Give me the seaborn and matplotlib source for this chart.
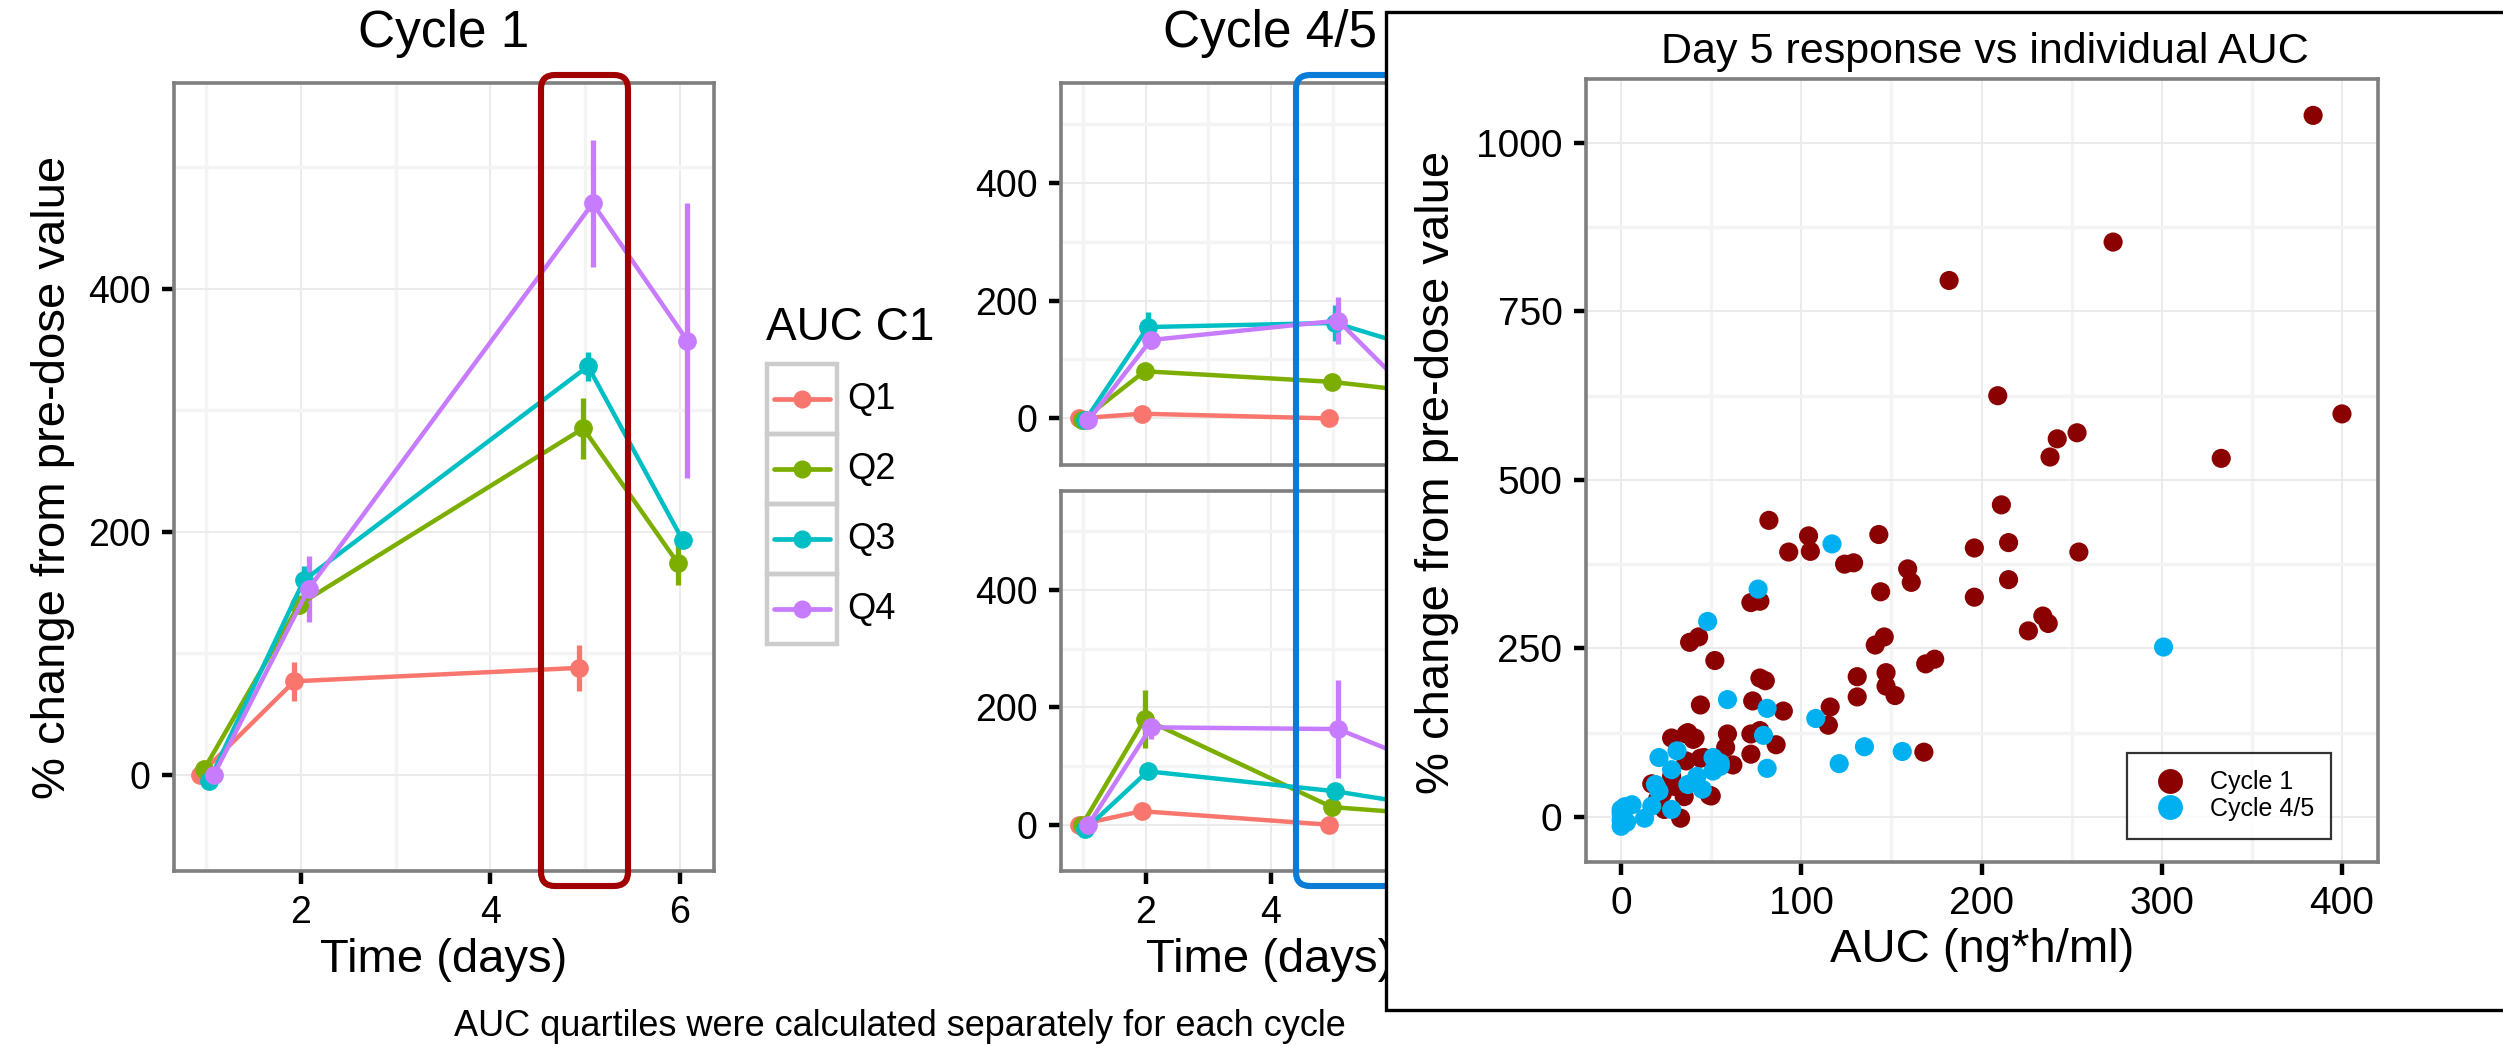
import matplotlib
matplotlib.use("Agg")
import matplotlib.pyplot as plt
from matplotlib.patches import FancyBboxPatch, Rectangle
from matplotlib.lines import Line2D
from matplotlib.ticker import MultipleLocator
import numpy as np
import pandas as pd
import seaborn as sns


# ---- data ----
days = [1, 2, 5, 6]
quartiles = ["Q1", "Q2", "Q3", "Q4"]

# cycle 1, mean % change and error bar half-width per quartile (rows) and day (cols)
c1_mean = [[0, 77, 88, np.nan], [5, 140, 285, 174], [-5, 160, 336, 193], [0, 153, 470, 357]]
c1_err = [[2, 16, 19, np.nan], [3, 8, 25, 18], [4, 12, 12, 5], [3, 27, 52, 113]]

# cycle 4 (upper facet) and cycle 5 (lower facet)
c4_mean = [[0, 8, 0, np.nan], [-3, 80, 62, 50], [-3, 155, 162, 130], [-3, 133, 166, 60]]
c4_err = [[2, 4, 3, np.nan], [2, 14, 8, 10], [3, 25, 30, 20], [3, 15, 40, 20]]
c5_mean = [[0, 23, 0, np.nan], [0, 180, 30, 22], [-8, 91, 57, 40], [0, 166, 163, 120]]
c5_err = [[2, 6, 3, np.nan], [2, 50, 8, 8], [4, 6, 10, 8], [3, 20, 84, 30]]

# day 5 response vs individual AUC
auc_c1 = [384, 273, 182, 209, 400, 253, 242, 238, 333, 211, 82, 143, 104, 215, 196, 254,
          93, 105, 124, 129, 159, 161, 215, 144, 196, 72, 77, 234, 237, 226, 146, 141,
          38, 43, 52, 169, 174, 147, 131, 77, 80, 147, 152, 131, 44, 73, 116, 90, 115,
          28, 36, 41, 59, 77, 72, 86, 58, 72, 168, 62, 36, 44, 33, 49, 35, 23, 17, 40,
          37, 46, 50, 24, 28, 30, 20]
resp_c1 = [1041, 853, 796, 625, 598, 570, 561, 534, 532, 463, 440, 419, 417, 407, 399, 393,
           393, 394, 375, 377, 368, 348, 352, 334, 326, 318, 320, 298, 287, 276, 267, 255,
           259, 267, 232, 227, 234, 214, 208, 206, 202, 194, 180, 178, 166, 172, 163, 157, 136,
           117, 123, 117, 123, 128, 123, 107, 103, 93, 96, 77, 83, 87, -2, 32, 30, 35, 49, 115,
           125, 88, 31, 11, 60, 45, 25]
auc_c45 = [117, 76, 48, 301, 59, 81, 108, 79, 135, 156, 121, 81, 21, 31, 28, 51, 55, 19,
           21, 42, 37, 45, 28, 17, 13, 6, 0, 0, 1, 0, 2, 51, 55, 0, 3]
resp_c45 = [405, 338, 290, 252, 174, 161, 146, 121, 104, 97, 79, 72, 88, 98, 70, 88, 75, 48,
            38, 60, 48, 41, 11, 16, -2, 18, 11, -14, 1, 5, 15, 68, 80, -5, -8]

q_colors = ["#F8766D", "#7CAE00", "#00BFC4", "#C77CFF"]
cycle_colors = {"Cycle 1": "#8B0000", "Cycle 4/5": "#00B0F0"}
dodge = {"Q1": -0.07, "Q2": -0.02, "Q3": 0.03, "Q4": 0.08}

W, H = 2503, 1046

sns.set_style("white")
plt.rcParams["font.family"] = ["Liberation Sans", "DejaVu Sans"]
plt.rcParams["text.color"] = "black"
plt.rcParams["axes.labelcolor"] = "black"

fig = plt.figure(figsize=(W / 100, H / 100), dpi=100)
fig.patch.set_facecolor("white")


def px_axes(left, top, right, bottom, **kw):
    return fig.add_axes([left / W, 1 - bottom / H, (right - left) / W, (bottom - top) / H], **kw)


def gg_style(ax, xmaj, ymaj, labelsize=27):
    ax.set_facecolor("white")
    ax.xaxis.set_major_locator(MultipleLocator(xmaj))
    ax.xaxis.set_minor_locator(MultipleLocator(xmaj / 2))
    ax.yaxis.set_major_locator(MultipleLocator(ymaj))
    ax.yaxis.set_minor_locator(MultipleLocator(ymaj / 2))
    ax.grid(which="minor", color="#F4F4F4", lw=2.5)
    ax.grid(which="major", color="#EBEBEB", lw=1.4)
    ax.set_axisbelow(True)
    for s in ax.spines.values():
        s.set_color("#7F7F7F")
        s.set_linewidth(2.6)
    ax.tick_params(which="major", bottom=True, left=True, length=9, width=3.2,
                   color="black", labelsize=labelsize, labelcolor="black", pad=8)
    ax.tick_params(which="minor", length=0)
    ax.set_xlabel("")
    ax.set_ylabel("")


def long_frame(means, errs):
    rows = []
    for qi, q in enumerate(quartiles):
        for di, d in enumerate(days):
            rows.append({"quartile": q, "day": d, "mean": means[qi][di], "err": errs[qi][di]})
    df = pd.DataFrame(rows).dropna()
    df["x"] = df["day"] + df["quartile"].map(dodge)
    return df


def draw_time_course(ax, means, errs):
    df = long_frame(means, errs)
    for q, col in zip(quartiles, q_colors):
        sub = df[df["quartile"] == q]
        ax.vlines(sub["x"], sub["mean"] - sub["err"], sub["mean"] + sub["err"],
                  colors=col, lw=3.8, zorder=2)
    sns.lineplot(data=df, x="x", y="mean", hue="quartile", hue_order=quartiles,
                 palette=q_colors, marker="o", markersize=13.5, markeredgewidth=0,
                 linewidth=3.2, estimator=None, legend=False, ax=ax, zorder=3)
    ax.set_xlim(0.66, 6.36)
    ax.set_ylim(-79, 569)
    gg_style(ax, 2, 200)
    ax.set_xticks([2, 4, 6])
    ax.set_yticks([0, 200, 400])


# ---- Cycle 1 ----
ax1 = px_axes(174, 83, 714, 871)
draw_time_course(ax1, c1_mean, c1_err)

# ---- Cycle 4/5 facets ----
ax4 = px_axes(1061, 83, 1418, 465)
draw_time_course(ax4, c4_mean, c4_err)
ax4.set_xlim(0.64, 6.36)
ax4.tick_params(axis="x", which="both", bottom=False, labelbottom=False)
ax5 = px_axes(1061, 491, 1418, 871)
draw_time_course(ax5, c5_mean, c5_err)
ax5.set_xlim(0.64, 6.36)

# ---- overlay (pixel coordinates) below the right box ----
ov = px_axes(0, 0, W, H)
ov.set_xlim(0, W)
ov.set_ylim(H, 0)
ov.axis("off")
ov.set_zorder(0.5)

ov.text(444, 33, "Cycle 1", ha="center", va="center", fontsize=37)
ov.text(1270, 33, "Cycle 4/5", ha="center", va="center", fontsize=37)
ov.text(444, 960, "Time (days)", ha="center", va="center", fontsize=34)
ov.text(1270, 960, "Time (days)", ha="center", va="center", fontsize=34)
ov.text(53, 477, "% change from pre-dose value", ha="center", va="center",
        rotation=90, fontsize=34)

# highlight boxes around day 5
ov.add_patch(FancyBboxPatch((541, 75), 87, 811, boxstyle="round,pad=0,rounding_size=14",
                            fill=False, ec="#A00000", lw=4.4, zorder=5))
ov.add_patch(FancyBboxPatch((1296, 75), 140, 811, boxstyle="round,pad=0,rounding_size=14",
                            fill=False, ec="#0A7CD6", lw=4.4, zorder=5))

# quartile legend in ggplot style
ov.text(766, 328, "AUC C1", ha="left", va="center", fontsize=33)
key_top, key_h = 364, 70
for i, (q, col) in enumerate(zip(quartiles, q_colors)):
    y0 = key_top + i * key_h
    ov.add_patch(Rectangle((767, y0), 70, key_h, fill=False, ec="#CCCCCC", lw=3.2))
    yc = y0 + key_h / 2
    ov.add_line(Line2D([774, 830], [yc, yc], color=col, lw=3.4))
    ov.add_line(Line2D([802], [yc], color=col, marker="o", markersize=13, markeredgewidth=0))
    ov.text(847, yc, q, ha="left", va="center", fontsize=26)

# ---- right panel box ----
box = px_axes(0, 0, W, H)
box.set_xlim(0, W)
box.set_ylim(H, 0)
box.axis("off")
box.set_zorder(1)
box.add_patch(Rectangle((1386, 12), 1130, 998, fc="white", ec="black", lw=2.4))

# ---- scatter: day 5 response vs AUC ----
sc = pd.DataFrame({
    "auc": auc_c1 + auc_c45,
    "resp": resp_c1 + resp_c45,
    "cycle": ["Cycle 1"] * len(auc_c1) + ["Cycle 4/5"] * len(auc_c45),
})
ax3 = px_axes(1586, 79, 2378, 862)
ax3.set_zorder(2)
sns.scatterplot(data=sc, x="auc", y="resp", hue="cycle", palette=cycle_colors,
                s=190, linewidth=0, ax=ax3)
ax3.set_xlim(-19.5, 420)
ax3.set_ylim(-67, 1095)
gg_style(ax3, 100, 250, labelsize=28)
ax3.set_xticks([0, 100, 200, 300, 400])
ax3.set_yticks([0, 250, 500, 750, 1000])
handles, labels = ax3.get_legend_handles_labels()
ax3.legend(handles, labels, loc="upper left", bbox_to_anchor=(2127 / W, 1 - 753 / H),
           bbox_transform=fig.transFigure, frameon=True, fancybox=False, edgecolor="black",
           fontsize=18, markerscale=1.3, handletextpad=0.6, borderpad=0.7,
           labelspacing=0.1, borderaxespad=0).get_frame().set_linewidth(1.6)

top = px_axes(0, 0, W, H)
top.set_xlim(0, W)
top.set_ylim(H, 0)
top.axis("off")
top.set_zorder(3)
top.text(1985, 52, "Day 5 response vs individual AUC", ha="center", va="center", fontsize=31)
top.text(1982, 950, "AUC (ng*h/ml)", ha="center", va="center", fontsize=34)
top.text(1437, 472, "% change from pre-dose value", ha="center", va="center",
         rotation=90, fontsize=34)
top.text(900, 1036, "AUC quartiles were calculated separately for each cycle",
         ha="center", va="baseline", fontsize=26)

fig.savefig("out.png", dpi=100, facecolor="white")
